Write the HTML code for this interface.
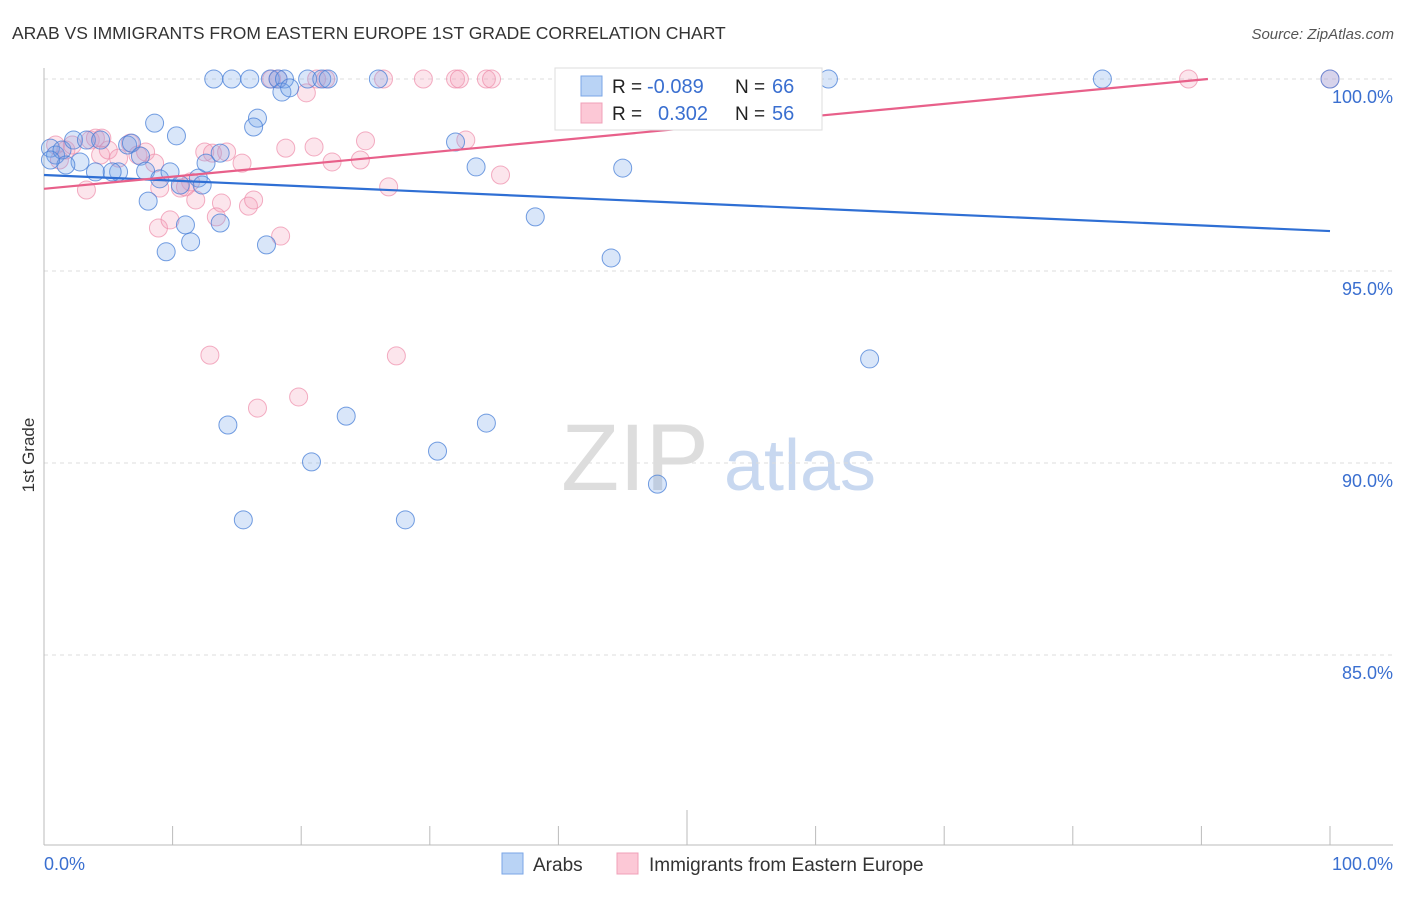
<!DOCTYPE html>
<html><head><meta charset="utf-8"><style>
body{margin:0;background:#fff;font-family:"Liberation Sans",sans-serif;}
svg text{font-family:"Liberation Sans",sans-serif;}
</style></head><body>
<svg id="chart" width="1406" height="892" xmlns="http://www.w3.org/2000/svg">
<text x="12" y="39" font-size="17.5" fill="#333">ARAB VS IMMIGRANTS FROM EASTERN EUROPE 1ST GRADE CORRELATION CHART</text>
<text x="1394" y="39" font-size="15" fill="#555" text-anchor="end" font-style="italic">Source: ZipAtlas.com</text>
<text x="34" y="455" font-size="17" fill="#333" text-anchor="middle" transform="rotate(-90 34 455)">1st Grade</text>
<g><text x="635" y="490" font-size="95" fill="#ddd" text-anchor="middle" font-family="Liberation Serif">ZIP</text><text x="800" y="490" font-size="72" fill="#c8d8f0" text-anchor="middle">atlas</text></g>
<g id="grid"></g><g id="axes"></g><g id="pts"></g><g id="trend"></g>
<g>
<rect x="555" y="68" width="267" height="62" fill="#fff" stroke="#ddd"/>
<rect x="581" y="76" width="21" height="20" fill="#b9d3f5" stroke="#7aa6e6"/>
<rect x="581" y="103" width="21" height="20" fill="#fcc8d6" stroke="#f0a0b8"/>
<text x="612" y="93" font-size="19" fill="#222">R =</text>
<text x="647" y="93" font-size="20" fill="#3a6fd0">-0.089</text>
<text x="735" y="93" font-size="19" fill="#222">N =</text>
<text x="772" y="93" font-size="20" fill="#3a6fd0">66</text>
<text x="612" y="120" font-size="19" fill="#222">R =</text>
<text x="658" y="120" font-size="20" fill="#3a6fd0">0.302</text>
<text x="735" y="120" font-size="19" fill="#222">N =</text>
<text x="772" y="120" font-size="20" fill="#3a6fd0">56</text>
</g>
<g>
<rect x="502" y="853" width="21" height="21" fill="#b9d3f5" stroke="#7aa6e6"/>
<text x="533" y="871" font-size="19" fill="#333">Arabs</text>
<rect x="617" y="853" width="21" height="21" fill="#fcc8d6" stroke="#f0a0b8"/>
<text x="649" y="871" font-size="19" fill="#333">Immigrants from Eastern Europe</text>
</g>
</svg>
<script>
const yTicks=[100,95,90,85];
const yTickLabels=["100.0%","95.0%","90.0%","85.0%"];
const blueX=[13.2,14.6,16.0,17.6,18.2,18.7,20.5,21.6,22.1,26.0,47.2,61.0,82.3,100,18.5,19.1,16.6,16.3,8.6,10.3,32.0,33.6,45.0,0.5,0.9,1.4,2.3,3.3,4.4,5.8,6.5,6.8,7.5,7.9,2.8,1.7,0.5,4.0,5.3,9.0,9.8,10.6,12.0,12.3,12.6,13.7,8.1,11.0,11.4,9.5,13.7,17.3,38.2,44.1,64.2,14.3,23.5,34.4,30.6,20.8,47.7,15.5,28.1];
const blueY=[100,100,100,100,100,100,100,100,100,100,100,100,100,100,99.66,99.77,98.98,98.75,98.85,98.52,98.36,97.71,97.68,98.2,98.02,98.15,98.41,98.41,98.41,97.58,98.28,98.33,97.99,97.6,97.84,97.76,97.89,97.58,97.58,97.4,97.58,97.24,97.42,97.24,97.81,98.07,96.82,96.2,95.76,95.5,96.25,95.68,96.41,95.34,92.71,90.99,91.22,91.04,90.31,90.03,89.45,88.52,88.52];
const pinkX=[0.9,1.2,1.7,2.2,3.6,4.0,4.4,5.0,5.8,6.7,7.3,7.9,3.3,9.0,8.9,9.8,11.0,11.4,11.8,12.5,13.1,13.8,14.2,15.4,15.9,16.3,18.4,18.8,21.0,22.4,24.6,25.0,26.8,32.8,35.5,13.4,12.9,27.4,16.6,19.8,20.4,21.2,21.9,26.4,29.5,32.0,32.3,34.4,34.8,89.0,100,17.7,18.2,8.6,10.6,4.5];
const pinkY=[98.28,97.89,98.15,98.28,98.41,98.46,98.02,98.15,97.94,98.33,98.02,98.1,97.11,97.16,96.12,96.33,97.19,97.32,96.85,98.1,98.07,96.77,98.1,97.81,96.69,96.85,95.91,98.2,98.23,97.84,97.89,98.39,97.19,98.41,97.5,96.41,92.81,92.79,91.43,91.72,99.64,100,100,100,100,100,100,100,100,100,100,100,100,97.81,97.16,98.46];
const blueTrend=[97.5,96.04];
const pinkTrend=[97.14,100.3];
const NS="http://www.w3.org/2000/svg";
const X=v=>44+v*12.86, Y=v=>79+(100-v)*38.4;
function mk(t,a,p){const e=document.createElementNS(NS,t);for(const k in a)e.setAttribute(k,a[k]);p.appendChild(e);return e;}
const grid=document.getElementById('grid'),axes=document.getElementById('axes');
yTicks.forEach((t,i)=>{
 const l=mk('line',{x1:44,x2:1393,y1:Y(t),y2:Y(t),stroke:'#ddd','stroke-dasharray':'4 4'},grid);
 
 
 const tx=mk('text',{x:1393,y:Y(t)+24,'font-size':18,fill:'#3a6fd0','text-anchor':'end'},axes);
 tx.textContent=yTickLabels[i];
 
 
});
mk('line',{x1:44,x2:44,y1:68,y2:845,stroke:'#bbb'},axes);
mk('line',{x1:44,x2:1393,y1:845,y2:845,stroke:'#bbb'},axes);
for(let i=0;i<=10;i++){const x=X(i*10);mk('line',{x1:x,x2:x,y1:i==5?810:826,y2:845,stroke:'#bbb'},axes);}
const x0=mk('text',{x:44,y:870,'font-size':18,fill:'#3a6fd0'},axes);x0.textContent='0.0%';


const x1=mk('text',{x:1393,y:870,'font-size':18,fill:'#3a6fd0','text-anchor':'end'},axes);x1.textContent='100.0%';


const pts=document.getElementById('pts');
pinkX.forEach((x,i)=>{const c=mk('circle',{cx:X(x),cy:Y(pinkY[i]),r:9,fill:'rgba(245,160,185,0.28)',stroke:'rgba(238,140,170,0.7)','stroke-width':1},pts);
 
 });
blueX.forEach((x,i)=>{const c=mk('circle',{cx:X(x),cy:Y(blueY[i]),r:9,fill:'rgba(120,165,235,0.28)',stroke:'rgba(70,125,215,0.75)','stroke-width':1},pts);
 
 });
const tr=document.getElementById('trend');
const bl=mk('line',{x1:X(0),y1:Y(blueTrend[0]),x2:X(100),y2:Y(blueTrend[1]),stroke:'#2f6fd4','stroke-width':2.2},tr);


const xe=(100-pinkTrend[0])/(pinkTrend[1]-pinkTrend[0])*100;
const pl=mk('line',{x1:X(0),y1:Y(pinkTrend[0]),x2:X(xe),y2:Y(100),stroke:'#e8608a','stroke-width':2.2},tr);


</script>
</body></html>
